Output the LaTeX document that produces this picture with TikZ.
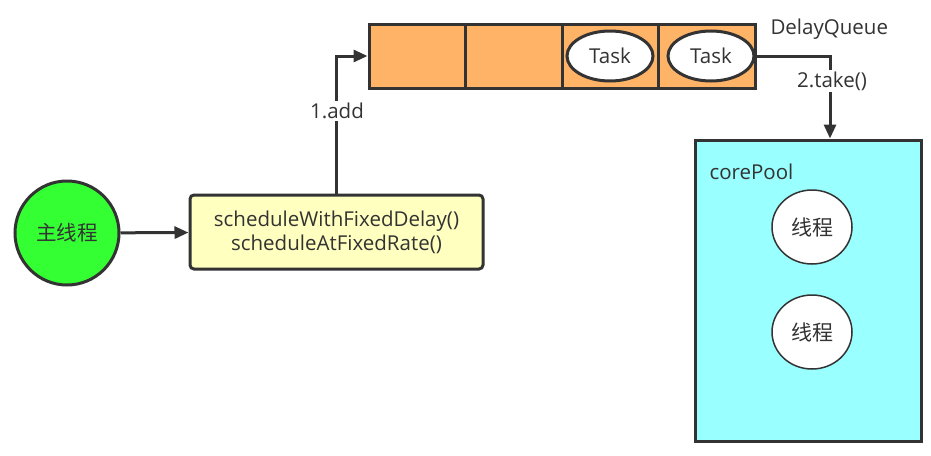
\documentclass[tikz,border=0pt]{standalone}
\usepackage{fontspec}
\setmainfont{Open Sans}
\newfontfamily\cjk{Noto Sans CJK SC}
\usetikzlibrary{arrows.meta,shapes.geometric}

\definecolor{lineGray}{HTML}{333333}
\definecolor{queueOrange}{HTML}{FFB366}
\definecolor{noteYellow}{HTML}{FFFFC0}
\definecolor{poolCyan}{HTML}{99FFFF}
\definecolor{mainGreen}{HTML}{33FF33}

\tikzset{
  every node/.style={text=lineGray, font=\fontsize{20.5}{24}\selectfont},
  cellBox/.style={draw=lineGray, line width=3pt, fill=queueOrange,
    minimum width=96.5pt, minimum height=64pt, inner sep=0pt},
  taskOval/.style={ellipse, draw=lineGray, line width=3pt, fill=white,
    minimum width=86pt, minimum height=50pt, inner sep=0pt},
  threadDot/.style={ellipse, draw=lineGray, line width=1.5pt, fill=white,
    minimum width=80pt, minimum height=74pt, inner sep=0pt, font=\cjk\fontsize{21}{24}\selectfont},
  flow/.style={draw=lineGray, line width=3pt, -{Triangle[length=14pt, width=12pt]}},
  flowLabel/.style={fill=white, inner sep=2pt}
}

\begin{document}
\begin{tikzpicture}[x=1pt, y=-1pt]
\useasboundingbox (0,0) rectangle (931,455);

% queue cells
\foreach \i in {1,...,4}
  \node[cellBox] (cell\i) at ({417.25+96.5*(\i-1)},56) {};
\node[taskOval] (task1) at (610,56) {Task};
\node[taskOval] (task2) at (711,56) {Task};
\node[anchor=west] (queueName) at (767,29) {DelayQueue};

% main thread and scheduler
\node[circle, draw=lineGray, line width=3pt, fill=mainGreen, minimum size=104pt,
  inner sep=0pt, font=\cjk\fontsize{20.5}{24}\selectfont] (main) at (67,233) {主线程};
\node[draw=lineGray, line width=3pt, fill=noteYellow, rounded corners=4pt,
  minimum width=293pt, minimum height=74pt, align=center] (sched) at (336.5,232)
  {scheduleWithFixedDelay()\\scheduleAtFixedRate()};

% core pool
\node[draw=lineGray, line width=3pt, fill=poolCyan, minimum width=226pt,
  minimum height=301pt] (pool) at (808,290.5) {};
\node[anchor=west] (poolName) at (706,172) {corePool};
\node[threadDot] (thread1) at (812,227) {线程};
\node[threadDot] (thread2) at (812,332) {线程};

% connectors
\draw[flow] (main) -- (sched);
\draw[flow] (sched.north) -- (sched.north |- cell1.west) -- (cell1.west);
\node[flowLabel] (addLabel) at (337,111) {1.add};
\draw[flow] (cell4.east) -| ([xshift=22pt]pool.north);
\node[flowLabel] (takeLabel) at (832,81) {2.take()};
\end{tikzpicture}
\end{document}
